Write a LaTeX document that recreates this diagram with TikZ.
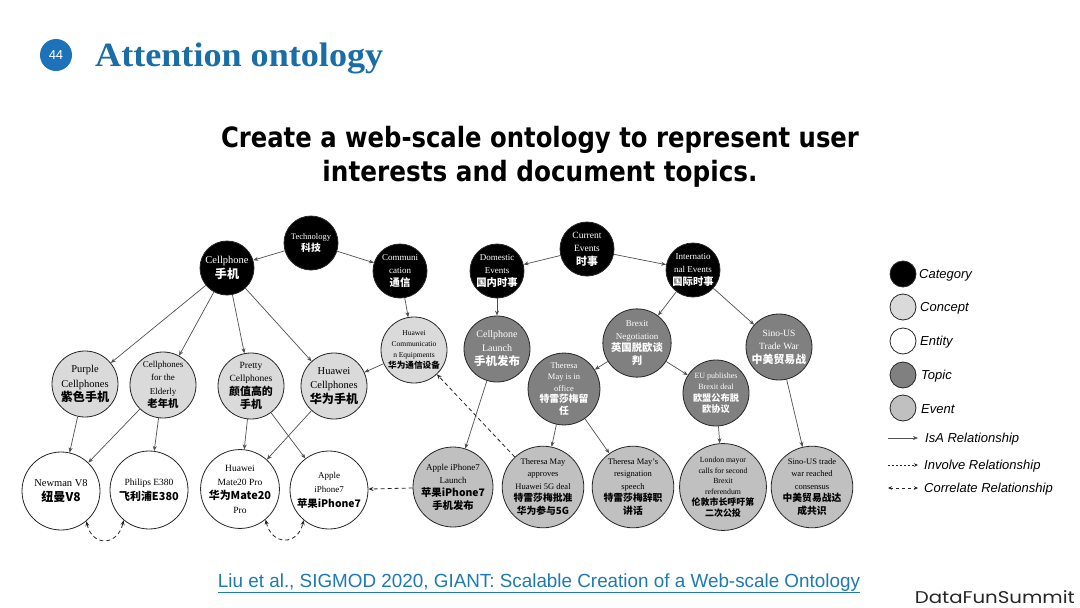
\documentclass[tikz,border=0pt]{standalone}
\usepackage{fontspec}
\usepackage{graphicx}
\setmainfont{Liberation Serif}
\newfontfamily\cjk{Noto Sans CJK SC}[Scale=1.15]
\newfontfamily\lsans{Liberation Sans}
\newfontfamily\djv{DejaVu Sans}
\newfontfamily\pop{Poppins}
\usetikzlibrary{arrows.meta}
\definecolor{titleblue}{RGB}{26,110,165}
\definecolor{badgeblue}{RGB}{28,115,185}
\definecolor{citeblue}{RGB}{30,122,178}
\definecolor{conceptgray}{RGB}{218,218,218}
\definecolor{topicgray}{RGB}{128,128,128}
\definecolor{eventgray}{RGB}{192,192,192}
\definecolor{edgegray}{RGB}{80,80,80}
\newcommand\zh[1]{{\cjk\bfseries #1}}
\begin{document}
\begin{tikzpicture}[x=1pt,y=-1pt,
  every node/.style={inner sep=0pt},
  base/.style={circle, draw=black!85, line width=0.8pt, align=center, font=\fontsize{10}{14}\selectfont},
  cat/.style={base, fill=black, text=white, minimum size=54pt},
  concept/.style={base, fill=conceptgray, minimum size=66pt},
  entity/.style={base, fill=white, minimum size=78pt},
  topic/.style={base, fill=topicgray, text=white, minimum size=66pt},
  event/.style={base, fill=eventgray, minimum size=80pt, font=\fontsize{8.5}{12.5}\selectfont},
  isa/.style={draw=edgegray, line width=0.7pt, -{Stealth[length=5pt,width=4pt]}},
  inv/.style={draw=black!85, line width=0.8pt, dash pattern=on 4pt off 3pt, -{Stealth[length=5pt,width=4pt]}},
  invleg/.style={draw=black!85, line width=0.6pt, dash pattern=on 2pt off 2pt, -{Stealth[length=4pt,width=3.5pt]}},
  corr/.style={draw=black!85, line width=0.8pt, dash pattern=on 4pt off 3pt, {Stealth[length=5pt,width=4pt]}-{Stealth[length=5pt,width=4pt]}},
  corrleg/.style={draw=black!85, line width=0.6pt, dash pattern=on 3pt off 3pt, {Stealth[length=4pt,width=3.5pt]}-{Stealth[length=4pt,width=3.5pt]}},
  legc/.style={circle, draw=black!85, line width=0.8pt, minimum size=26pt},
  legt/.style={anchor=west, font=\lsans\itshape\fontsize{13}{13}\selectfont},
]
\useasboundingbox (0,0) rectangle (1080,608);
\fill[white] (0,0) rectangle (1080,608);

% header
\node[circle, fill=badgeblue, minimum size=32pt, text=white, font=\lsans\fontsize{13}{13}\selectfont] (badge) at (56,55) {44};
\node[anchor=base west, text=titleblue] (title) at (95,66) {\resizebox{288pt}{\height}{\bfseries\fontsize{34}{34}\selectfont Attention ontology}};
\node[anchor=base] (sub1) at (540,147) {\resizebox{638pt}{\height}{\djv\bfseries\fontsize{28}{28}\selectfont Create a web-scale ontology to represent user}};
\node[anchor=base] (sub2) at (540,181) {\resizebox{435pt}{\height}{\djv\bfseries\fontsize{28}{28}\selectfont interests and document topics.}};

% categories
\node[cat, font=\fontsize{8.5}{12.5}\selectfont] (tech) at (311,243) {Technology\\\zh{科技}};
\node[cat, font=\fontsize{10.5}{15}\selectfont] (cell) at (227,268) {Cellphone\\\zh{手机}};
\node[cat, font=\fontsize{9}{13}\selectfont] (comm) at (400,271) {Communi\\cation\\\zh{通信}};
\node[cat, font=\fontsize{9.5}{13.5}\selectfont] (cur) at (587,249) {Current\\Events\\\zh{时事}};
\node[cat, font=\fontsize{9}{13}\selectfont] (dom) at (497,271) {Domestic\\Events\\\zh{国内时事}};
\node[cat, font=\fontsize{9}{13}\selectfont] (intl) at (693,270) {Internatio\\nal Events\\\zh{国际时事}};

% concepts
\node[concept, font=\fontsize{10.5}{14.5}\selectfont] (purple) at (85,384) {Purple\\Cellphones\\\zh{紫色手机}};
\node[concept, font=\fontsize{9}{13.5}\selectfont] (elder) at (163,385) {Cellphones\\for the\\Elderly\\\zh{老年机}};
\node[concept, font=\fontsize{9.5}{13.5}\selectfont] (pretty) at (251,386) {Pretty\\Cellphones\\\zh{颜值高的}\\\zh{手机}};
\node[concept, font=\fontsize{10.5}{14.5}\selectfont] (hwcell) at (334,386) {Huawei\\Cellphones\\\zh{华为手机}};
\node[concept, font=\fontsize{7.5}{11}\selectfont] (hce) at (414,350) {Huawei\\Communicatio\\n Equipments\\\zh{华为通信设备}};

% entities
\node[entity, font=\fontsize{10.5}{15}\selectfont] (newman) at (61,491) {Newman V8\\\zh{纽曼V8}};
\node[entity, font=\fontsize{9.5}{15}\selectfont] (philips) at (149,490) {Philips E380\\\zh{飞利浦E380}};
\node[entity, font=\fontsize{9.5}{14}\selectfont] (mate) at (240,489) {Huawei\\Mate20 Pro\\\zh{华为Mate20}\\Pro};
\node[entity, font=\fontsize{9}{14.5}\selectfont] (iphone) at (329,490) {Apple\\iPhone7\\\zh{苹果iPhone7}};

% topics
\node[topic] (launch) at (497,349) {Cellphone\\Launch\\\zh{手机发布}};
\node[topic, font=\fontsize{9}{12.5}\selectfont] (brexit) at (637,343) {Brexit\\Negotiation\\\zh{英国脱欧谈}\\\zh{判}};
\node[topic, font=\fontsize{8.5}{11.5}\selectfont] (tmoff) at (564,389) {Theresa\\May is in\\office\\\zh{特雷莎梅留}\\\zh{任}};
\node[topic, font=\fontsize{8}{11.5}\selectfont] (eu) at (716,393) {EU publishes\\Brexit deal\\\zh{欧盟公布脱}\\\zh{欧协议}};
\node[topic, font=\fontsize{9.5}{13.5}\selectfont] (sino) at (779,347) {Sino-US\\Trade War\\\zh{中美贸易战}};

% events
\node[event, font=\fontsize{9}{13}\selectfont] (ev1) at (453,487) {Apple iPhone7\\Launch\\\zh{苹果iPhone7}\\\zh{手机发布}};
\node[event] (ev2) at (543,487) {Theresa May\\approves\\Huawei 5G deal\\\zh{特雷莎梅批准}\\\zh{华为参与5G}};
\node[event] (ev3) at (633,487) {Theresa May's\\resignation\\speech\\\zh{特雷莎梅辞职}\\\zh{讲话}};
\node[event, font=\fontsize{7.8}{10.8}\selectfont] (ev4) at (723,487) {London mayor\\calls for second\\Brexit\\referendum\\\zh{伦敦市长呼吁第}\\\zh{二次公投}};
\node[event] (ev5) at (812,487) {Sino-US trade\\war reached\\consensus\\\zh{中美贸易战达}\\\zh{成共识}};

% IsA edges
\draw[isa] (tech) -- (cell);
\draw[isa] (tech) -- (comm);
\draw[isa] (cell) -- (purple);
\draw[isa] (cell) -- (elder);
\draw[isa] (cell) -- (pretty);
\draw[isa] (cell) -- (hwcell);
\draw[isa] (comm) -- (hce);
\draw[isa] (hce) -- (hwcell);
\draw[isa] (purple) -- (newman);
\draw[isa] (elder) -- (newman);
\draw[isa] (elder) -- (philips);
\draw[isa] (pretty) -- (mate);
\draw[isa] (pretty) -- (iphone);
\draw[isa] (hwcell) -- (mate);
\draw[isa] (cur) -- (dom);
\draw[isa] (cur) -- (intl);
\draw[isa] (dom) -- (launch);
\draw[isa] (intl) -- (brexit);
\draw[isa] (intl) -- (sino);
\draw[isa] (brexit) -- (tmoff);
\draw[isa] (brexit) -- (eu);
\draw[isa] (launch) -- (ev1);
\draw[isa] (tmoff) -- (ev2);
\draw[isa] (tmoff) -- (ev3);
\draw[isa] (eu) -- (ev4);
\draw[isa] (sino) -- (ev5);

% involve edges
\draw[inv] (ev1) -- (iphone);
\draw[inv] (ev2) -- (hce);

% correlate edges
\draw[corr] (newman.-50) .. controls +(6,26) and +(-6,26) .. (philips.-130);
\draw[corr] (mate.-50) .. controls +(6,26) and +(-6,26) .. (iphone.-130);

% legend
\node[legc, fill=black] (lg1) at (903,274) {};
\node[legc, fill=conceptgray] (lg2) at (903,307) {};
\node[legc, fill=white] (lg3) at (903,341) {};
\node[legc, fill=topicgray] (lg4) at (903,375) {};
\node[legc, fill=eventgray] (lg5) at (903,408) {};
\node[legt] (lt1) at (919,275) {Category};
\node[legt] (lt2) at (920,308) {Concept};
\node[legt] (lt3) at (920,342) {Entity};
\node[legt] (lt4) at (921,376) {Topic};
\node[legt] (lt5) at (921,409) {Event};
\coordinate (la1) at (888,438); \coordinate (lb1) at (918,438);
\coordinate (la2) at (888,465); \coordinate (lb2) at (918,465);
\coordinate (la3) at (888,488); \coordinate (lb3) at (918,488);
\draw[isa] (la1) -- (lb1);
\draw[invleg] (la2) -- (lb2);
\draw[corrleg] (la3) -- (lb3);
\node[legt] (lt6) at (925,439) {IsA Relationship};
\node[legt] (lt7) at (924,466) {Involve Relationship};
\node[legt] (lt8) at (924,489) {Correlate Relationship};

% footer
\node[anchor=base, text=citeblue] (cite) at (539,587) {\resizebox{642pt}{\height}{\lsans\fontsize{19}{19}\selectfont \underline{Liu et al., SIGMOD 2020, GIANT: Scalable Creation of a Web-scale Ontology}}};
\node[anchor=base east, text=black!85] (brand) at (1075,603) {\resizebox{160pt}{\height}{\pop\fontsize{17}{17}\selectfont DataFunSummit}};
\end{tikzpicture}
\end{document}
